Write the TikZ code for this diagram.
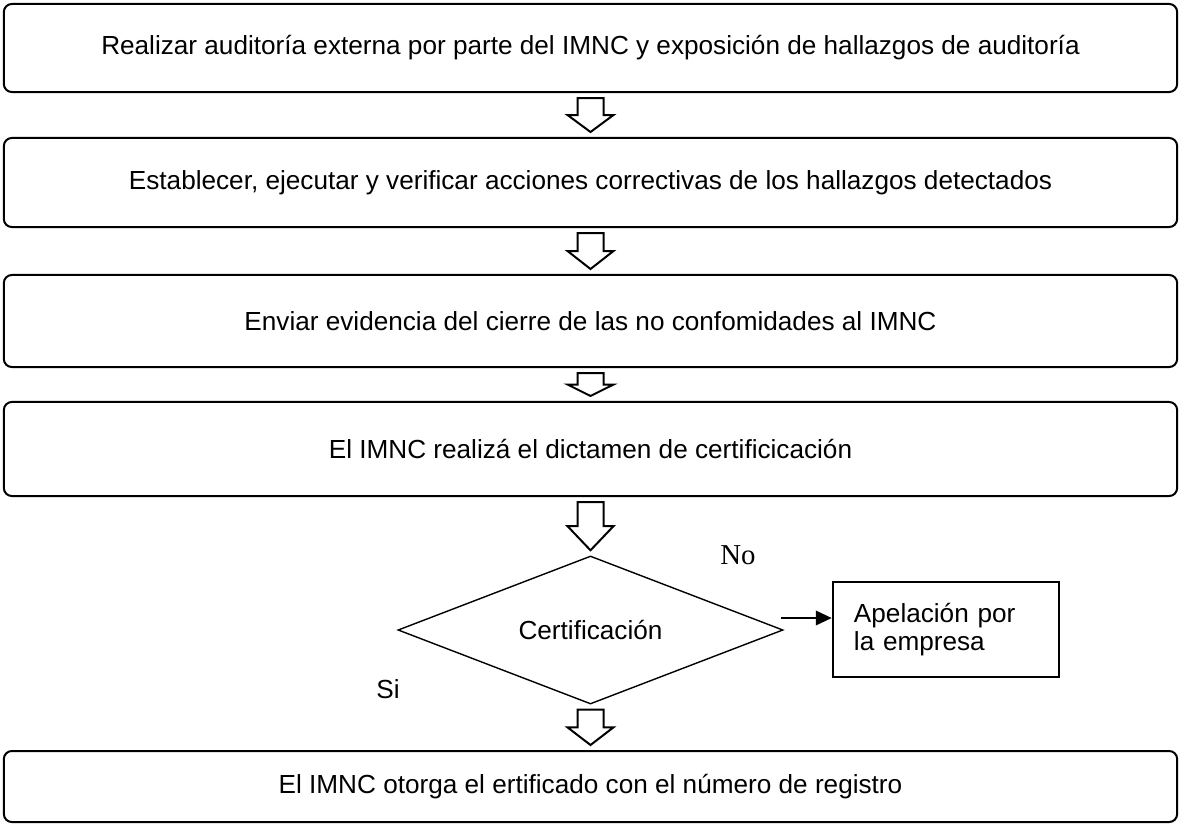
\documentclass[tikz,border=0pt]{standalone}
\usepackage{fontspec}
\setmainfont{Liberation Sans}
\newfontfamily\serifno{Liberation Serif}
\usetikzlibrary{calc}
\usetikzlibrary{shapes.geometric}
\usetikzlibrary{arrows.meta}
\def\hollowarrow#1#2{
	\draw[line width=0.05cm] ($(#1.south)+(-13,5)$)--($(#1.south)+(13,5)$)--($(#1.south)!0.5!(#2.north)+(13,0)$)--($(#1.south)!0.5!(#2.north)+(23,0)$)--($(#2.north)+(0,-5)$)--($(#1.south)!0.5!(#2.north)+(-23,0)$)--($(#1.south)!0.5!(#2.north)+(-13,0)$)--cycle;
	}

\begin{document}
\begin{tikzpicture}[x=0.025cm,y=-0.025cm,
	every node/.style={font=\fontsize{18.6}{20}\selectfont},
	box/.style={draw,line width=0.05cm,rounded corners=0.2cm,minimum width=29.325cm,inner sep=0pt}]
					\useasboundingbox (0,0) rectangle (1180,824);
					\node[box,minimum height=2.2cm] (b1) at (590.5,48) {Realizar auditoría externa por parte del IMNC y exposición de hallazgos de auditoría};
					\node[box,minimum height=2.225cm] (b2) at (590.5,182.5) {Establecer, ejecutar y verificar acciones correctivas de los hallazgos detectados};
					\node[box,minimum height=2.3cm] (b3) at (590.5,321) {Enviar evidencia del cierre de las no confomidades al IMNC};
					\node[box,minimum height=2.35cm] (b4) at (590.5,449) {El IMNC realizá el dictamen de certificicación};
					\node[diamond,draw,line width=0.035cm,minimum width=9.625cm,minimum height=3.7cm,inner sep=0pt,shape aspect=2.6] (cert) at (590.5,630) {Certificación};
					\node[draw,line width=0.06cm,text width=4.6cm,inner xsep=0.525cm,inner ysep=0pt,minimum height=2.375cm,align=left] (apel) at (946,629.5) {Apelación por\\la empresa};
					\node[box,minimum height=1.775cm] (b6) at (590.5,786.5) {El IMNC otorga el ertificado con el número de registro};
					\node[font=\serifno\fontsize{20.5}{22}\selectfont] (no) at (738,555) {No};
					\node (si) at (388,689) {Si};
					\coordinate (nofrom) at (781,618);
					\draw[line width=0.06cm,-{Triangle[length=0.4cm,width=0.36cm]}] (nofrom)--(nofrom-|apel.west);
					\hollowarrow{b1}{b2}
					\hollowarrow{b2}{b3}
					\hollowarrow{b3}{b4}
					\hollowarrow{b4}{cert}
					\hollowarrow{cert}{b6}
				\end{tikzpicture}
\end{document}
